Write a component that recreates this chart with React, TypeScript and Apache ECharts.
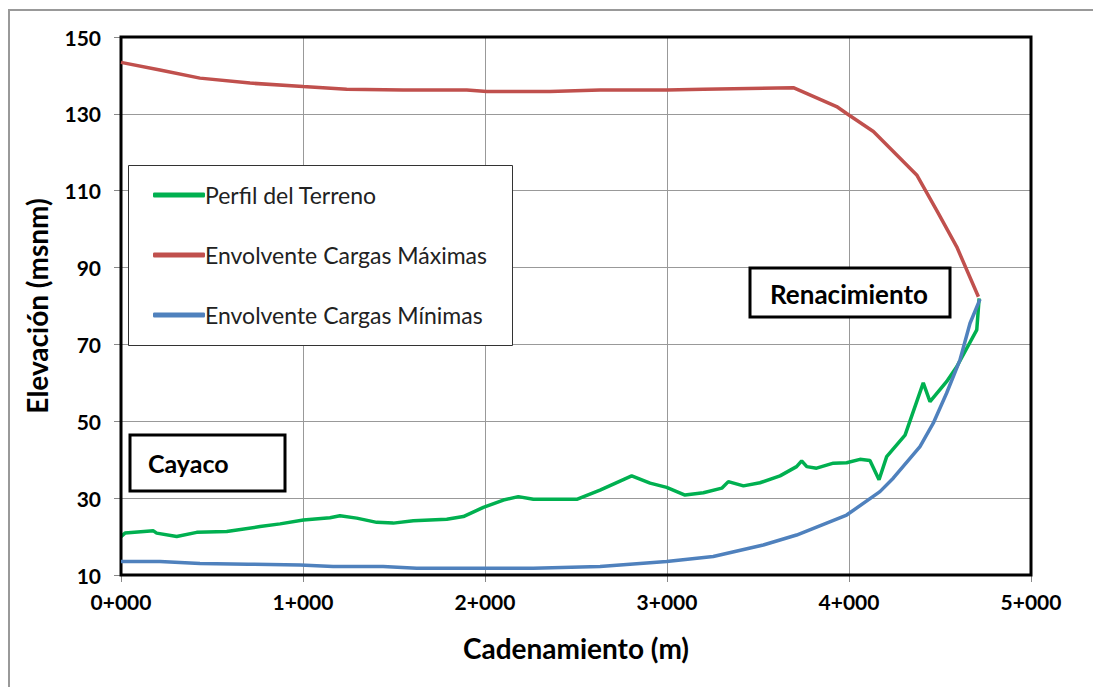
import React, { useEffect, useRef } from "react";
import * as echarts from "echarts";

const terrenoX = [0, 22, 178, 196, 306, 416, 581, 764, 874, 1002, 1148, 1203, 1295, 1405, 1496, 1606, 1790, 1881, 1991, 2101, 2183, 2266, 2504, 2632, 2806, 2907, 2998, 3099, 3200, 3301, 3337, 3420, 3511, 3621, 3712, 3740, 3768, 3822, 3914, 3987, 4060, 4115, 4165, 4207, 4308, 4408, 4445, 4536, 4592, 4702, 4715];
const terrenoY = [20.0, 20.9, 21.5, 20.9, 20.0, 21.1, 21.3, 22.6, 23.3, 24.3, 24.9, 25.4, 24.8, 23.7, 23.5, 24.1, 24.5, 25.2, 27.6, 29.5, 30.4, 29.7, 29.7, 32.1, 35.8, 33.9, 32.8, 30.8, 31.4, 32.6, 34.3, 33.2, 34.0, 35.8, 38.2, 39.7, 38.2, 37.8, 39.1, 39.2, 40.1, 39.8, 34.8, 40.8, 46.4, 60.0, 55.1, 60.3, 64.2, 73.8, 82.0];

const maxX = [0, 214, 434, 709, 1000, 1240, 1550, 1900, 2010, 2357, 2632, 3000, 3200, 3694, 3932, 3987, 4134, 4372, 4491, 4592, 4711];
const maxY = [143.4, 141.4, 139.3, 138.0, 137.1, 136.4, 136.2, 136.2, 135.8, 135.8, 136.2, 136.2, 136.4, 136.8, 131.9, 130.1, 125.4, 114.1, 104.1, 95.4, 82.4];

const minX = [0, 214, 434, 700, 984, 1165, 1440, 1625, 2265, 2632, 2998, 3254, 3529, 3712, 3987, 4170, 4243, 4390, 4463, 4536, 4610, 4665, 4720];
const minY = [13.5, 13.5, 13.0, 12.8, 12.6, 12.2, 12.2, 11.75, 11.75, 12.2, 13.5, 14.8, 17.8, 20.4, 25.6, 31.7, 35.2, 43.4, 49.5, 57.3, 66.0, 75.5, 81.8];

const seriesNames = ["Perfil del Terreno", "Envolvente Cargas Máximas", "Envolvente Cargas Mínimas"];
const seriesColors = ["#00B050", "#C0504D", "#4F81BD"];

const zip = (xs: number[], ys: number[]) => xs.map((x, i) => [x, ys[i]]);

const FONT = "Lato, 'Open Sans', sans-serif";

export default function App() {
  const ref = useRef<HTMLDivElement>(null);
  useEffect(() => {
    if (!ref.current) return;
    const chart = echarts.init(ref.current, undefined, { renderer: "svg" });
    const datasets = [zip(terrenoX, terrenoY), zip(maxX, maxY), zip(minX, minY)];
    chart.setOption({
      animation: false,
      backgroundColor: "#fff",
      grid: {
        left: 121,
        top: 37,
        right: 62,
        bottom: 112,
        show: true,
        borderColor: "#000",
        borderWidth: 3,
        z: 3,
      },
      legend: {
        orient: "vertical",
        left: 148,
        top: 178,
        icon: "roundRect",
        itemWidth: 52,
        itemHeight: 5,
        itemGap: 36,
        z: 10,
        textStyle: { fontFamily: FONT, fontSize: 23, lineHeight: 24, color: "#222", padding: [0, 0, 0, -5] },
        data: seriesNames,
      },
      xAxis: {
        type: "value",
        min: 0,
        max: 5000,
        interval: 1000,
        name: "Cadenamiento (m)",
        nameLocation: "middle",
        nameGap: 59,
        nameTextStyle: { fontFamily: FONT, fontWeight: "bold", fontSize: 28, color: "#000" },
        axisLine: { show: false },
        axisTick: { show: true, length: 7, lineStyle: { color: "#888" } },
        axisLabel: {
          margin: 16,
          fontFamily: FONT,
          fontWeight: "bold",
          fontSize: 21,
          color: "#000",
          formatter: (v: number) => `${Math.round(v / 1000)}+000`,
        },
        splitLine: { show: true, lineStyle: { color: "#999", width: 1 } },
      },
      yAxis: {
        type: "value",
        min: 10,
        max: 150,
        interval: 20,
        name: "Elevación (msnm)",
        nameLocation: "middle",
        nameGap: 70,
        nameTextStyle: { fontFamily: FONT, fontWeight: "bold", fontSize: 28, color: "#000" },
        axisLine: { show: false },
        axisTick: { show: true, length: 7, lineStyle: { color: "#888" } },
        axisLabel: {
          margin: 20,
          fontFamily: FONT,
          fontWeight: "bold",
          fontSize: 21,
          color: "#000",
        },
        splitLine: { show: true, lineStyle: { color: "#999", width: 1 } },
      },
      graphic: [
        {
          type: "rect",
          z: 0,
          silent: true,
          shape: { x: 9, y: 10, width: 1100, height: 700 },
          style: { fill: "none", stroke: "#999", lineWidth: 2 },
        },
        {
          type: "rect",
          z: 8,
          silent: true,
          shape: { x: 128.5, y: 165.5, width: 384, height: 180 },
          style: { fill: "#fff", stroke: "#333", lineWidth: 1 },
        },
        {
          type: "rect",
          z: 8,
          silent: true,
          shape: { x: 750, y: 268, width: 200, height: 49 },
          style: { fill: "#fff", stroke: "#000", lineWidth: 3 },
        },
        {
          type: "text",
          z: 9,
          silent: true,
          x: 849,
          y: 294,
          style: {
            text: "Renacimiento",
            fontFamily: FONT,
            fontWeight: "bold",
            fontSize: 26,
            fill: "#000",
            align: "center",
            verticalAlign: "middle",
          },
        },
        {
          type: "rect",
          z: 8,
          silent: true,
          shape: { x: 130, y: 435, width: 155, height: 56 },
          style: { fill: "#fff", stroke: "#000", lineWidth: 3 },
        },
        {
          type: "text",
          z: 9,
          silent: true,
          x: 148,
          y: 463,
          style: {
            text: "Cayaco",
            fontFamily: FONT,
            fontWeight: "bold",
            fontSize: 25,
            fill: "#000",
            align: "left",
            verticalAlign: "middle",
          },
        },
      ],
      series: seriesNames.map((name, i) => ({
        name,
        type: "line",
        data: datasets[i],
        symbol: "none",
        smooth: false,
        z: 2 + i,
        color: seriesColors[i],
        lineStyle: { color: seriesColors[i], width: 3.5 },
      })),
    });
    return () => chart.dispose();
  }, []);
  return <div ref={ref} style={{ width: 1093, height: 687, position: "absolute", left: 0, top: 0 }} />;
}
